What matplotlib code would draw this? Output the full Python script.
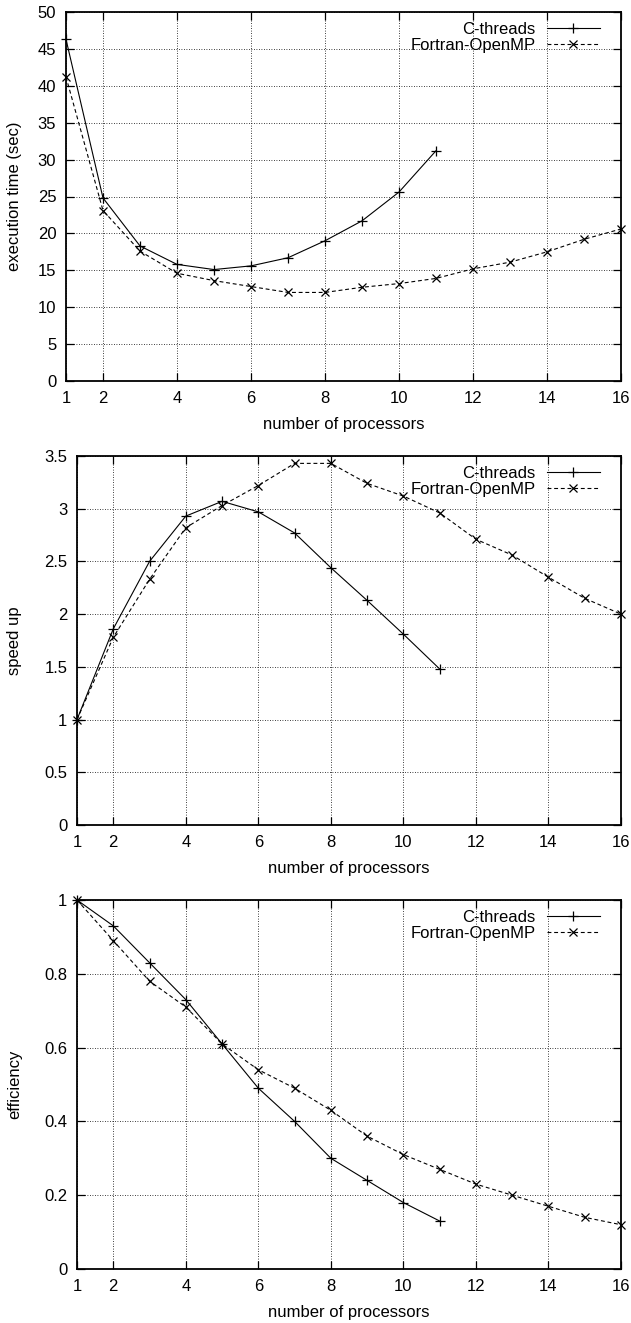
import matplotlib
matplotlib.use("Agg")
import matplotlib.pyplot as plt

# ---- data ----
procs_c = [1, 2, 3, 4, 5, 6, 7, 8, 9, 10, 11]
procs_f = [1, 2, 3, 4, 5, 6, 7, 8, 9, 10, 11, 12, 13, 14, 15, 16]

time_c = [46.3, 24.8, 18.3, 15.8, 15.1, 15.6, 16.7, 19.0, 21.7, 25.6, 31.2]
time_f = [41.2, 23.1, 17.6, 14.6, 13.6, 12.8, 12.0, 12.0, 12.7, 13.2, 13.9,
          15.2, 16.1, 17.5, 19.2, 20.6]

speed_c = [1.0, 1.86, 2.50, 2.93, 3.07, 2.97, 2.77, 2.44, 2.13, 1.81, 1.48]
speed_f = [1.0, 1.78, 2.33, 2.82, 3.03, 3.22, 3.43, 3.43, 3.24, 3.12, 2.96,
           2.71, 2.56, 2.35, 2.15, 2.0]

eff_c = [1.0, 0.93, 0.83, 0.73, 0.61, 0.49, 0.40, 0.30, 0.24, 0.18, 0.13]
eff_f = [1.0, 0.89, 0.78, 0.71, 0.61, 0.54, 0.49, 0.43, 0.36, 0.31, 0.27,
         0.23, 0.20, 0.17, 0.14, 0.12]

series_labels = ["C-threads", "Fortran-OpenMP"]
x_ticks = [1, 2, 4, 6, 8, 10, 12, 14, 16]
xlabel = "number of processors"

time_ticks = [0, 5, 10, 15, 20, 25, 30, 35, 40, 45, 50]
time_ticklabels = ["0", "5", "10", "15", "20", "25", "30", "35", "40", "45", "50"]
speed_ticks = [0, 0.5, 1, 1.5, 2, 2.5, 3, 3.5]
speed_ticklabels = ["0", "0.5", "1", "1.5", "2", "2.5", "3", "3.5"]
eff_ticks = [0, 0.2, 0.4, 0.6, 0.8, 1.0]
eff_ticklabels = ["0", "0.2", "0.4", "0.6", "0.8", "1"]

plt.rcParams['font.family'] = ['Liberation Sans', 'DejaVu Sans']
FS = 12

W, H = 631, 1323
fig = plt.figure(figsize=(W / 100, H / 100), dpi=100)


def make_axes(l, r, t, b):
    return fig.add_axes([l / W, 1 - b / H, (r - l) / W, (b - t) / H])


panels = [
    (make_axes(66, 621, 12, 381), time_c, time_f, (0, 50), time_ticks,
     time_ticklabels, "execution time (sec)"),
    (make_axes(77, 621, 456, 825), speed_c, speed_f, (0, 3.5), speed_ticks,
     speed_ticklabels, "speed up"),
    (make_axes(77, 621, 900, 1269), eff_c, eff_f, (0, 1), eff_ticks,
     eff_ticklabels, "efficiency"),
]

for ax, yc, yf, ylim, yt, ytl, ylab in panels:
    ax.plot(procs_c, yc, color='black', lw=0.8, marker='+', ms=6.5, mew=0.9,
            clip_on=False, label=series_labels[0], zorder=3)
    ax.plot(procs_f, yf, color='black', lw=0.8, ls=(0, (3.5, 2.5)), marker='x',
            ms=5.5, mew=0.9, clip_on=False, label=series_labels[1], zorder=3)
    ax.set_xlim(1, 16)
    ax.set_ylim(*ylim)
    ax.set_xticks(x_ticks)
    ax.set_xticklabels([str(v) for v in x_ticks])
    ax.set_yticks(yt)
    ax.set_yticklabels(ytl)
    ax.grid(True, color='black', ls=(0, (1, 2)), lw=0.6)
    ax.tick_params(direction='in', length=6, width=0.9, top=True, right=True,
                   labelsize=FS, colors='black')
    ax.tick_params(axis='x', pad=7.5)
    ax.tick_params(axis='y', pad=7)
    for s in ax.spines.values():
        s.set_linewidth(1.3)
    ax.set_xlabel(xlabel, fontsize=FS)
    ax.set_ylabel(ylab, fontsize=FS)
    pos = ax.get_position()
    axw = pos.width * W
    axh = pos.height * H
    ax.xaxis.label.set_va('center')
    ax.xaxis.set_label_coords(0.5, -44 / axh)
    ax.yaxis.label.set_va('center')
    ax.yaxis.set_label_coords((15 - pos.x0 * W) / axw, 0.5)
    leg = ax.legend(loc='upper right', frameon=False, markerfirst=False,
                    fontsize=FS, handlelength=3.2, handletextpad=0.65,
                    labelspacing=0.05, borderpad=0, borderaxespad=0,
                    bbox_to_anchor=(1 - 21 / axw, 1 - 10 / axh))
    for t in leg.get_texts():
        t.set_ha('right')

fig.savefig("out.png", dpi=100)
